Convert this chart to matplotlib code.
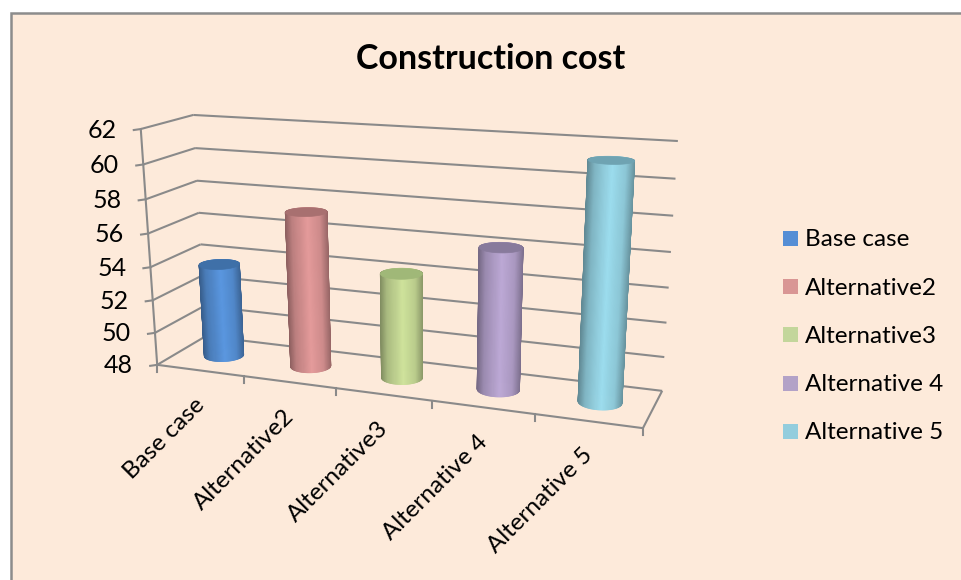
import numpy as np
import matplotlib
matplotlib.use('Agg')
import matplotlib.pyplot as plt
from matplotlib.collections import PolyCollection
from matplotlib.patches import Polygon, Rectangle

plt.rcParams['font.family'] = ['Lato', 'DejaVu Sans']

categories = ['Base case', 'Alternative2', 'Alternative3', 'Alternative 4', 'Alternative 5']
values = [53.7, 57.3, 54.2, 56.2, 61.3]
y_ticks = [48, 50, 52, 54, 56, 58, 60, 62]
body_colors = ['#5A97E0', '#E59B9B', '#CFE39C', '#BDA9D6', '#9CDDEE']
top_colors = ['#3F70A8', '#A87070', '#A0B878', '#887A9C', '#6FA3B2']
legend_colors = ['#558ED5', '#D99694', '#C3D69B', '#B3A2C7', '#93CDDD']

BG = '#FDEADA'
GRID = '#8A8A8A'
Y_MIN, Y_MAX = y_ticks[0], y_ticks[-1]
N = len(categories)

# box corners on screen: (category pos, value, depth) -> pixel
CORNERS = [
    ((0, Y_MIN, 0), (156, 365)),
    ((0, Y_MAX, 0), (142, 129)),
    ((N, Y_MIN, 0), (643, 428)),
    ((0, Y_MIN, 1), (207, 336)),
    ((0, Y_MAX, 1), (192, 115)),
    ((N, Y_MIN, 1), (662, 391)),
    ((N, Y_MAX, 1), (678, 141)),
]


def fit_projection(corners):
    """least squares fit of a 3x4 projective matrix"""
    rows = []
    rhs = []
    for (cat, val, dep), (px, py) in corners:
        vec = [cat, (val - Y_MIN) / (Y_MAX - Y_MIN), dep, 1]
        rows.append(vec + [0, 0, 0, 0] + [-px * _ for _ in vec[:3]])
        rhs.append(px)
        rows.append([0, 0, 0, 0] + vec + [-py * _ for _ in vec[:3]])
        rhs.append(py)
    sol = np.linalg.lstsq(np.array(rows, float), np.array(rhs, float), rcond=None)[0]
    return np.append(sol, 1).reshape(3, 4)


PROJ = fit_projection(CORNERS)


def project(cat, val, dep):
    cat, val, dep = np.broadcast_arrays(cat, val, dep)
    vec = np.stack([cat, (val - Y_MIN) / (Y_MAX - Y_MIN), dep, np.ones(cat.shape)])
    res = PROJ @ vec
    return res[0] / res[2], res[1] / res[2]


def line3d(ax, start, end, **kwargs):
    xs, ys = project(*np.array([start, end], float).T)
    ax.plot(xs, ys, color=GRID, lw=1.5, solid_capstyle='butt', **kwargs)


def draw_cylinder(ax, pos, value, body, top):
    theta = np.linspace(0, 2 * np.pi, 121)
    cat = pos + 0.5 + 0.205 * np.cos(theta)
    dep = 0.5 + 0.2 * np.sin(theta)
    x_bot, y_bot = project(cat, Y_MIN, dep)
    x_top, y_top = project(cat, value, dep)
    polys = []
    cols = []
    base = np.array(matplotlib.colors.to_rgb(body))
    order = np.argsort(-np.sin(theta[:-1]))
    for k in order:
        polys.append([(x_bot[k], y_bot[k]), (x_bot[k + 1], y_bot[k + 1]),
                      (x_top[k + 1], y_top[k + 1]), (x_top[k], y_top[k])])
        # position across the silhouette, measured at the same height
        span = (x_top.max() - x_top.min())
        mid = (x_top[k] - x_top.min()) / span
        shade = np.interp(mid, [0, 0.15, 0.5, 0.8, 1], [0.62, 0.82, 1.0, 0.9, 0.66])
        cols.append(base * shade)
    ax.add_collection(PolyCollection(polys, facecolors=cols, edgecolors='face',
                                     linewidths=0.6, zorder=4))
    ax.add_patch(Polygon(np.column_stack([x_top, y_top]), closed=True, fc=top, ec=top,
                         lw=0.5, zorder=5))


fig = plt.figure(figsize=(9.62, 5.8), dpi=100, facecolor='white')
ax = fig.add_axes([0, 0, 1, 1])
ax.set_xlim(0, 962)
ax.set_ylim(580, 0)
ax.axis('off')

ax.add_patch(Rectangle((11, 12.5), 960, 580, fc=BG, ec='#8C8C8C', lw=1.8))

# walls and floor
for tick in y_ticks:
    line3d(ax, (0, tick, 0), (0, tick, 1))
    line3d(ax, (0, tick, 1), (N, tick, 1))
    x_tick, y_tick = project(0, tick, 0)
    ax.plot([x_tick - 7, x_tick], [y_tick + 1, y_tick], color=GRID, lw=1.5)
    ax.text(float(x_tick) - 24, float(y_tick) + 1, str(tick), ha='right', va='center',
            fontsize=18, color='black')
line3d(ax, (0, Y_MIN, 0), (0, Y_MAX, 0))
line3d(ax, (0, Y_MIN, 0), (N, Y_MIN, 0))
line3d(ax, (N, Y_MIN, 0), (N, Y_MIN, 1))
for i in range(N + 1):
    x_tick, y_tick = project(i, Y_MIN, 0)
    ax.plot([x_tick, x_tick], [y_tick, y_tick + 7], color=GRID, lw=1.5)

for i in range(N):
    draw_cylinder(ax, i, values[i], body_colors[i], top_colors[i])
    x_lab, y_lab = project(i + 0.5, Y_MIN, 0)
    ax.text(float(x_lab) + 1, float(y_lab) + 31, categories[i], rotation=45,
            rotation_mode='anchor', ha='right', va='center', fontsize=17.5, color='black')

ax.text(491, 59, 'Construction cost', ha='center', va='center', fontsize=24.5,
        fontweight='bold', color='black')

for i in range(N):
    y_leg = 238.5 + 48.2 * i
    ax.add_patch(Rectangle((783, y_leg - 7.5), 15, 15, fc=legend_colors[i], ec='none'))
    ax.text(805, y_leg + 1.5, categories[i], ha='left', va='center', fontsize=17.5, color='black')

fig.savefig('out.png', dpi=100, facecolor='white')
